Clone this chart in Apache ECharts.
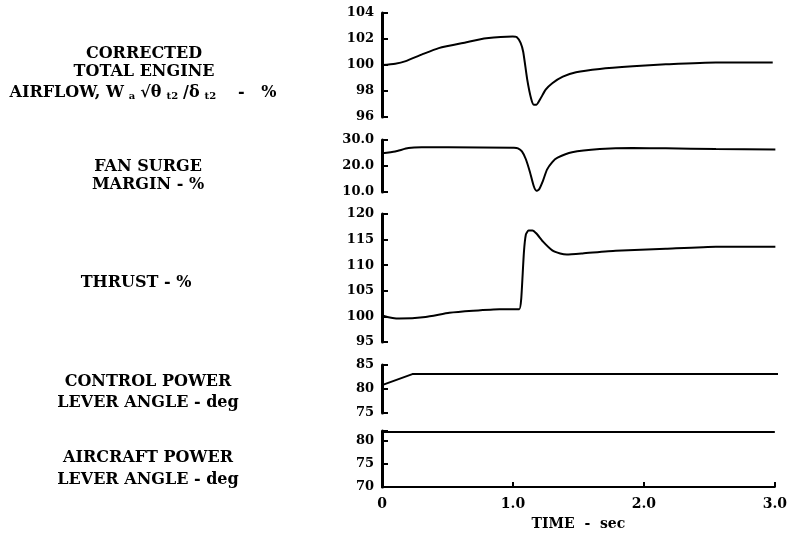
<!DOCTYPE html>
<html><head><meta charset="utf-8">
<script src="https://cdn.jsdelivr.net/npm/echarts@6/dist/echarts.min.js"></script>
<style>html,body{margin:0;padding:0;background:#fff}#c{width:790px;height:533px}</style>
</head><body><div id="c"></div>
<script>
// ---- data ----
const airflowT = [0,0.1,0.18,0.3,0.43,0.64,0.79,0.99,1.02,1.05,1.07,1.10,1.13,1.15,1.17,1.20,1.24,1.29,1.37,1.47,1.65,1.90,2.15,2.53,2.96];
const airflowV = [100,100.1,100.3,100.8,101.3,101.75,102.05,102.2,102.15,101.7,101.0,98.9,97.4,96.95,96.95,97.4,98.1,98.6,99.1,99.45,99.7,99.9,100.05,100.2,100.2];
const surgeT = [0,0.1,0.2,0.3,0.5,1.0,1.03,1.06,1.09,1.12,1.15,1.17,1.19,1.22,1.25,1.29,1.33,1.44,1.65,1.90,2.15,2.53,2.98];
const surgeV = [24.9,25.6,26.9,27.2,27.2,27,26.8,25.6,22.6,17.8,12.2,10.5,11.0,14.4,18.6,21.5,23.2,25.3,26.5,26.9,26.8,26.5,26.3];
const thrustT = [0,0.04,0.08,0.13,0.33,0.51,0.69,0.89,1.04,1.055,1.075,1.09,1.11,1.14,1.17,1.22,1.29,1.35,1.40,1.52,1.77,2.15,2.53,2.98];
const thrustV = [100.25,99.9,99.7,99.6,99.9,100.7,101.1,101.4,101.4,103.5,112.5,116.0,116.8,116.8,116.2,114.6,112.9,112.3,112.1,112.3,112.8,113.2,113.6,113.6];
const cplaT = [0,0.23,3.0];
const cplaV = [80.8,83.1,83.1];
const aplaT = [0,3.0];
const aplaV = [81.8,81.8];
const xTicks = ['0','1.0','2.0','3.0'];

const font = '"DejaVu Serif", "Liberation Serif", serif';
const pair = (t, v) => t.map((x, i) => [x, v[i]]);

const grids = [
  {top:13, height:104, min:96, max:104, interval:2, dec:0, smooth:0.2},
  {top:140, height:52, min:10, max:30, interval:10, dec:1, smooth:0.2},
  {top:214, height:128, min:95, max:120, interval:5, dec:0, smooth:0.15},
  {top:365, height:48, min:75, max:85, interval:5, dec:0, smooth:false},
  {top:431, height:56, min:70, max:82, interval:5, dec:0, smooth:false}
];
const series = [pair(airflowT, airflowV), pair(surgeT, surgeV), pair(thrustT, thrustV), pair(cplaT, cplaV), pair(aplaT, aplaV)];

const txt = {color:'#000', fontFamily:font, fontWeight:'bold', fontSize:16, align:'center'};

const option = {
  animation:false,
  grid: grids.map(g => ({left:382, width:396, top:g.top, height:g.height})),
  xAxis: grids.map((g, i) => ({
    type:'value', gridIndex:i, min:0, max:3, interval:1,
    show: i === 4,
    axisLine:{show:true, lineStyle:{color:'#000', width:2}},
    axisTick:{show:true, inside:true, length:5, lineStyle:{color:'#000', width:2}},
    splitLine:{show:false},
    axisLabel:{color:'#000', fontFamily:font, fontWeight:'bold', fontSize:14, margin:10,
      formatter: v => xTicks[Math.round(v)]},
    name: i === 4 ? 'TIME  -  sec' : '', nameLocation:'middle', nameGap:30,
    nameTextStyle:{color:'#000', fontFamily:font, fontWeight:'bold', fontSize:14}
  })),
  yAxis: grids.map((g, i) => ({
    type:'value', gridIndex:i, min:g.min, max:g.max, interval:g.interval,
    axisLine:{show:true, lineStyle:{color:'#000', width:3}},
    axisTick:{show:true, inside:true, length:6, lineStyle:{color:'#000', width:2}},
    splitLine:{show:false},
    axisLabel:{color:'#000', fontFamily:font, fontWeight:'bold', fontSize:13, margin:8,
      formatter: v => (Math.abs(v / g.interval - Math.round(v / g.interval)) > 1e-6) ? '' : v.toFixed(g.dec)}
  })),
  series: series.map((d, i) => ({
    type:'line', xAxisIndex:i, yAxisIndex:i, data:d, smooth:grids[i].smooth, showSymbol:false,
    lineStyle:{color:'#000', width:2}
  })),
  title: [
    {text:'CORRECTED\nTOTAL ENGINE', left:144, top:45, textAlign:'center', padding:0,
      textStyle:Object.assign({lineHeight:18}, txt)},
    {text:'{b|AIRFLOW, W}{s|a}{b|√θ}{s|t2}{b|/δ}{s|t2}{b|   -   %}', left:143, top:84, textAlign:'center', padding:0,
      textStyle:{rich:{
        b:{color:'#000', fontFamily:font, fontWeight:'bold', fontSize:16},
        s:{color:'#000', fontFamily:font, fontWeight:'bold', fontSize:10, verticalAlign:'bottom', padding:[7,5,0,5]}
      }}},
    {text:'FAN SURGE\nMARGIN - %', left:148, top:158, textAlign:'center', padding:0,
      textStyle:Object.assign({lineHeight:18}, txt)},
    {text:'THRUST - %', left:136, top:275, textAlign:'center', padding:0,
      textStyle:Object.assign({}, txt)},
    {text:'CONTROL POWER\nLEVER ANGLE - deg', left:148, top:371, textAlign:'center', padding:0,
      textStyle:Object.assign({lineHeight:21}, txt)},
    {text:'AIRCRAFT POWER\nLEVER ANGLE - deg', left:148, top:447, textAlign:'center', padding:0,
      textStyle:Object.assign({lineHeight:22}, txt)}
  ]
};
echarts.init(document.getElementById('c'), null, {renderer:'canvas'}).setOption(option);
</script></body></html>
